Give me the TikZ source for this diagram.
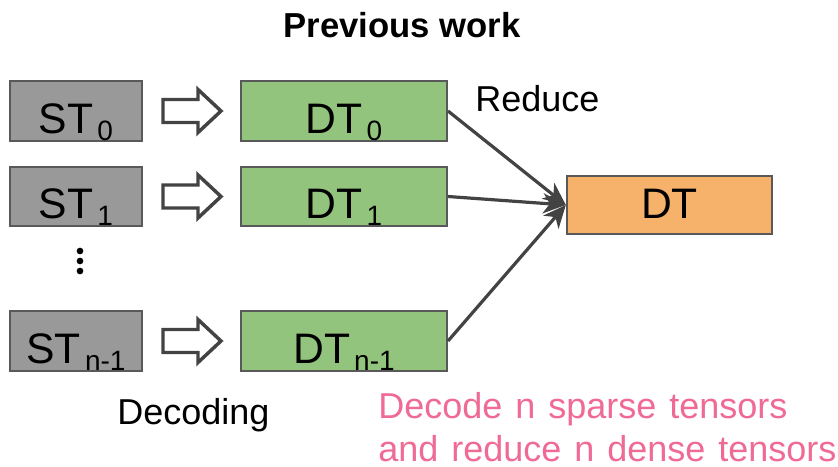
\documentclass[tikz,border=0pt]{standalone}
\usepackage{fontspec}
\setmainfont{Liberation Sans}
\newfontfamily\pinkfont[WordSpace=1.3]{Liberation Sans}
\usetikzlibrary{arrows.meta}
\definecolor{stgray}{HTML}{999999}
\definecolor{dtgreen}{HTML}{93C47D}
\definecolor{dtorange}{HTML}{F6B26B}
\definecolor{edge}{HTML}{595959}
\definecolor{arr}{HTML}{434343}
\definecolor{pinktext}{HTML}{EF6A95}
\tikzset{
  px/.style={x=0.75pt,y=-0.75pt},
  box/.style={draw=edge, line width=1.5pt, inner sep=0pt, minimum width=99pt, minimum height=44.5pt},
  stbox/.style={box, fill=stgray},
  dtbox/.style={box, fill=dtgreen, minimum width=154.5pt},
  outbox/.style={box, fill=dtorange, minimum width=154pt, minimum height=43.5pt},
  boxtext/.style={anchor=base, inner sep=0pt, font=\fontsize{32}{32}\selectfont},
  plain/.style={anchor=base west, inner sep=0pt, font=\fontsize{27}{27}\selectfont},
  pinkstyle/.style={plain, text=pinktext, font=\pinkfont\fontsize{27}{27}\selectfont},
  hollow/.style={draw=arr, line width=2.6pt, fill=white, line join=miter},
  reduce/.style={draw=arr, line width=2.4pt, -{Stealth[length=17pt,width=15pt,inset=5pt]}},
  dot/.style={fill=black, circle, inner sep=0pt, minimum size=5pt}
}
\newcommand{\sbx}[1]{\kern3pt\raisebox{-5.3pt}{\fontsize{21}{21}\selectfont #1}}
\begin{document}
\begin{tikzpicture}[px]
\useasboundingbox (0,0) rectangle (838,467);
% title
\node[anchor=base, inner sep=0pt, font=\fontsize{26}{26}\selectfont\bfseries] (title) at (402,38) {Previous work};
% ST boxes
\node[stbox] (st0) at (76,111) {};
\node[stbox] (st1) at (76,196.5) {};
\node[stbox] (stn) at (76,341) {};
\node[boxtext] (st0t) at (76,133) {ST\sbx{0}};
\node[boxtext] (st1t) at (76,218.5) {ST\sbx{1}};
\node[boxtext] (stnt) at (76,363) {ST\sbx{n-1}};
% DT boxes
\node[dtbox] (dt0) at (344,111) {};
\node[dtbox] (dt1) at (344,196.5) {};
\node[dtbox] (dtn) at (344,341) {};
\node[boxtext] (dt0t) at (344,133) {DT\sbx{0}};
\node[boxtext] (dt1t) at (344,218.5) {DT\sbx{1}};
\node[boxtext] (dtnt) at (344,363) {DT\sbx{n-1}};
% output
\node[outbox] (out) at (669.5,205) {};
\node[boxtext] (outt) at (669.5,218) {DT};
% dots
\node[dot] (d1) at (80,251) {};
\node[dot] (d2) at (80,261) {};
\node[dot] (d3) at (80,271) {};
% hollow arrows
\foreach \y/\n in {111/a0,196.5/a1,341/an}{
  \coordinate (\n) at (163,\y);
  \draw[hollow] (\n) ++(0,-11.5) -- ++(35,0) -- ++(0,-10) -- ++(23,21.5) -- ++(-23,21.5) -- ++(0,-10) -- ++(-35,0) -- cycle;
}
% reduce arrows
\draw[reduce] (dt0.east) -- (out.west);
\draw[reduce] (dt1.east) -- (out.west);
\draw[reduce] (dtn.east) -- (out.west);
% labels
\node[plain] (red) at (475,111.5) {Reduce};
\node[plain] (dec) at (117,424) {Decoding};
\node[pinkstyle] (p1) at (378,418) {Decode n sparse tensors};
\node[pinkstyle] (p2) at (378,461.5) {and reduce n dense tensors};
\end{tikzpicture}
\end{document}
